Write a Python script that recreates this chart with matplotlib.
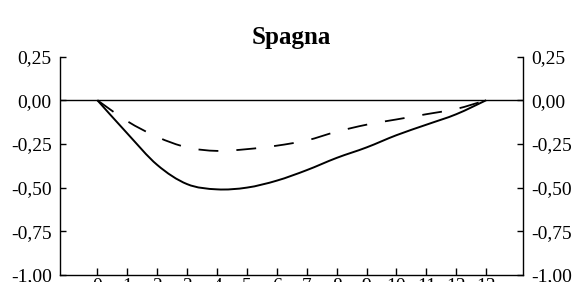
import matplotlib
matplotlib.use("Agg")
import matplotlib.pyplot as plt
from matplotlib.path import Path
from matplotlib.patches import PathPatch

# periods after the shock
periods = list(range(14))

# responses
solid = [0.00, -0.19, -0.37, -0.48, -0.51, -0.50, -0.46, -0.40, -0.33, -0.27,
         -0.20, -0.14, -0.08, 0.00]
dashed = [0.00, -0.12, -0.21, -0.27, -0.29, -0.28, -0.26, -0.23, -0.18, -0.14,
          -0.11, -0.08, -0.05, 0.00]

y_ticks = [0.25, 0.0, -0.25, -0.5, -0.75, -1.0]
y_labels = ["0,25", "0,00", "-0,25", "-0,50", "-0,75", "-1,00"]


def smooth_path(xs, ys, t=1 / 6):
    # Excel-style smoothed line: cubic Bezier segments through the points
    verts = [(xs[0], ys[0])]
    codes = [Path.MOVETO]
    n = len(xs)
    for i in range(n - 1):
        x0, y0 = xs[max(i - 1, 0)], ys[max(i - 1, 0)]
        x1, y1 = xs[i], ys[i]
        x2, y2 = xs[i + 1], ys[i + 1]
        x3, y3 = xs[min(i + 2, n - 1)], ys[min(i + 2, n - 1)]
        c1 = (x1 + (x2 - x0) * t, y1 + (y2 - y0) * t)
        c2 = (x2 - (x3 - x1) * t, y2 - (y3 - y1) * t)
        verts += [c1, c2, (x2, y2)]
        codes += [Path.CURVE4] * 3
    return Path(verts, codes)


plt.rcParams['font.family'] = ['Liberation Serif', 'DejaVu Serif']

fig = plt.figure(figsize=(5.75, 2.82), dpi=100)
ax = fig.add_axes([0.1043, 0.0248, 0.8053, 0.7748])

ax.axhline(0, color='black', lw=1.0, zorder=1)
ax.add_patch(PathPatch(smooth_path(periods, solid), fill=False,
                       edgecolor='black', lw=1.4, capstyle='butt'))
ax.add_patch(PathPatch(smooth_path(periods, dashed), fill=False,
                       edgecolor='black', lw=1.3, linestyle=(0, (11, 10))))

ax.set_xlim(-1.25, 14.23)
ax.set_ylim(-1.0, 0.25)

ax.set_xticks(periods)
ax.set_xticklabels([str(p) for p in periods])
ax.set_yticks(y_ticks)
ax.set_yticklabels(y_labels)

ax.spines['top'].set_visible(False)
for s in ['left', 'right', 'bottom']:
    ax.spines[s].set_linewidth(1.0)

ax.tick_params(axis='y', direction='in', length=4, width=1.0, pad=6,
               left=True, right=True, labelleft=True, labelright=True,
               labelsize=14)
ax.tick_params(axis='x', direction='in', length=5, width=1.0, pad=2, labelsize=14)

ax.set_title("Spagna", fontsize=18, fontweight='bold', pad=9)

fig.savefig("out.png", dpi=100)
